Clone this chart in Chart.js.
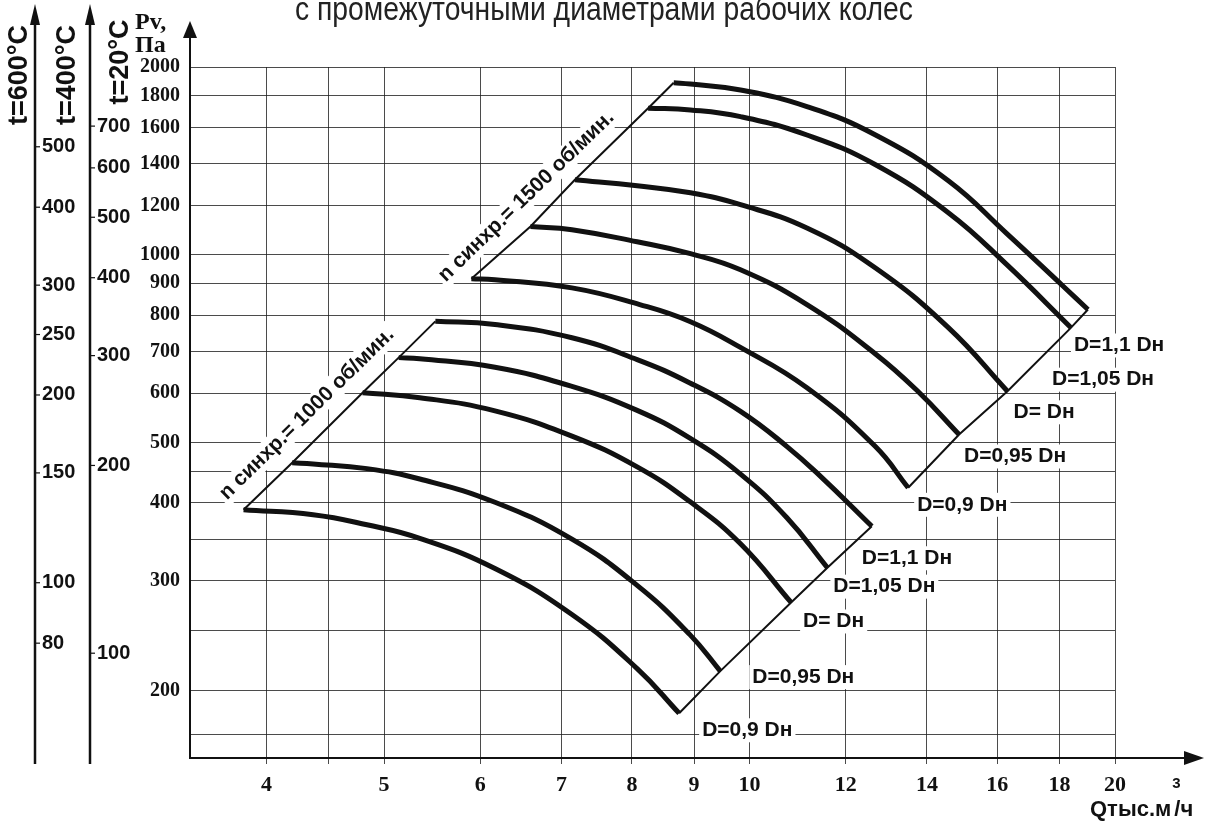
<!DOCTYPE html>
<html lang="ru">
<head>
<meta charset="utf-8">
<title>Аэродинамические характеристики</title>
<script src="https://cdn.jsdelivr.net/npm/chart.js@4.4.1/dist/chart.umd.min.js"></script>
<style>
  html, body { margin: 0; padding: 0; background: #fff; }
  canvas { display: block; }
</style>
</head>
<body>
<canvas id="chart" width="1210" height="826"></canvas>
<script>
// Q, тыс. м3/ч  and  Pv, Па, n = 1000 об/мин
const q1000d090 = [3.83, 4.37, 4.84, 5.35, 6.17, 7.14, 8.08, 8.75];
const p1000d090 = [390, 383, 369, 351, 314, 265, 217, 184];
const q1000d095 = [4.20, 4.37, 4.84, 5.35, 6.17, 7.14, 8.08, 8.93, 9.46];
const p1000d095 = [464, 462, 454, 437, 401, 350, 295, 246, 215];
const q1000d100 = [4.80, 5.35, 6.17, 7.14, 8.08, 8.93, 9.83, 10.82];
const p1000d100 = [601, 590, 562, 512, 457, 402, 344, 277];
const q1000d105 = [5.14, 5.35, 6.17, 7.14, 8.08, 8.93, 9.83, 10.73, 11.59];
const p1000d105 = [684, 681, 660, 615, 563, 508, 445, 379, 315];
const q1000d110 = [5.51, 6.17, 7.14, 8.08, 8.93, 9.83, 10.73, 11.43, 12.61];
const p1000d110 = [782, 773, 736, 679, 623, 561, 493, 442, 367];

// n = 1500 об/мин
const q1500d090 = [5.90, 6.17, 7.14, 8.12, 8.94, 9.82, 11.15, 12.69, 13.51];
const p1500d090 = [915, 912, 885, 832, 781, 711, 612, 493, 423];
const q1500d095 = [6.60, 7.14, 8.08, 8.94, 9.83, 11.15, 12.69, 13.76, 14.88];
const p1500d095 = [1110, 1097, 1049, 1004, 946, 832, 694, 604, 515];
const q1500d100 = [7.18, 8.08, 8.94, 9.83, 11.15, 12.69, 14.58, 16.31];
const p1500d100 = [1319, 1290, 1257, 1203, 1104, 953, 764, 604];
const q1500d105 = [8.25, 8.94, 9.83, 11.15, 12.70, 14.58, 16.29, 18.40];
const p1500d105 = [1718, 1707, 1665, 1556, 1394, 1168, 964, 764];
const q1500d110 = [8.66, 8.94, 9.83, 11.15, 12.70, 14.58, 16.29, 18.11, 19.00];
const p1500d110 = [1887, 1878, 1837, 1728, 1556, 1314, 1081, 892, 817];

// axes
const qMin = 3.46, qMax = 20;
const qTicks = [4, 4.5, 5, 6, 7, 8, 9, 10, 12, 14, 16, 18, 20];
const qBlank = [4.5];
const pMin = 156, pMax = 2000;
const pTicks = [170, 200, 250, 300, 350, 400, 450, 500, 600, 700, 800, 900, 1000, 1200, 1400, 1600, 1800, 2000];
const pBlank = [170, 250, 350, 450];
// same pressure at 400 °C and 600 °C (density ratio to 20 °C)
const t400Factor = 293 / 673;
const t600Factor = 293 / 873;
const t400Ticks = [100, 200, 300, 400, 500, 600, 700];
const t600Ticks = [80, 100, 150, 200, 250, 300, 400, 500];

const curves = [
  { rpm: 1000, q: q1000d090, p: p1000d090, label: 'D=0,9 Dн' },
  { rpm: 1000, q: q1000d095, p: p1000d095, label: 'D=0,95 Dн' },
  { rpm: 1000, q: q1000d100, p: p1000d100, label: 'D= Dн' },
  { rpm: 1000, q: q1000d105, p: p1000d105, label: 'D=1,05 Dн' },
  { rpm: 1000, q: q1000d110, p: p1000d110, label: 'D=1,1 Dн' },
  { rpm: 1500, q: q1500d090, p: p1500d090, label: 'D=0,9 Dн' },
  { rpm: 1500, q: q1500d095, p: p1500d095, label: 'D=0,95 Dн' },
  { rpm: 1500, q: q1500d100, p: p1500d100, label: 'D= Dн' },
  { rpm: 1500, q: q1500d105, p: p1500d105, label: 'D=1,05 Dн' },
  { rpm: 1500, q: q1500d110, p: p1500d110, label: 'D=1,1 Dн' }
];
// where each D label sits relative to the end of its curve (px)
const labelOffsets = [[23, 17], [32, 6], [12, 19], [6, 19], [-10, 32],
                      [9, 17], [5, 22], [6, 21], [-19, 52], [-14, 36]];
// rpm labels along the start lines: [offset from line, shift along line]
const rpmLabels = [
  { rpm: 1000, text: 'n синхр.= 1000 об/мин.', off: 24, along: -22 },
  { rpm: 1500, text: 'n синхр.= 1500 об/мин.', off: 21, along: -44 }
];

const SERIF = '"Liberation Serif", "Times New Roman", serif';
const SANS = '"Liberation Sans", Arial, sans-serif';
const NARROW = '"Liberation Sans Narrow", "Arial Narrow", "Liberation Sans", sans-serif';
const INK = '#111';
const GRID = 'rgba(30,30,30,0.8)';

const toPts = (q, p) => q.map((v, i) => ({ x: v, y: p[i] }));
const datasets = curves.map(c => ({
  label: c.label + ' ' + c.rpm,
  data: toPts(c.q, c.p),
  showLine: true,
  borderColor: INK,
  borderWidth: 5,
  borderCapStyle: 'butt',
  borderJoinStyle: 'round',
  pointRadius: 0,
  tension: 0.45
}));
[1000, 1500].forEach(n => {
  const g = curves.filter(c => c.rpm === n);
  [g.map(c => ({ x: c.q[0], y: c.p[0] })),
   g.map(c => ({ x: c.q[c.q.length - 1], y: c.p[c.p.length - 1] }))].forEach(pts => {
    datasets.push({ label: 'n' + n, data: pts, showLine: true, borderColor: INK,
      borderWidth: 2, pointRadius: 0, tension: 0 });
  });
});

function arrowUp(ctx, x, tip, half, len) {
  ctx.beginPath();
  ctx.moveTo(x, tip);
  ctx.lineTo(x - half, tip + len);
  ctx.lineTo(x + half, tip + len);
  ctx.closePath();
  ctx.fill();
}

function boxedText(ctx, text, x, y, align) {
  const w = ctx.measureText(text).width;
  const left = align === 'center' ? x - w / 2 : x;
  ctx.fillStyle = '#fff';
  ctx.fillRect(left - 3, y - 12, w + 6, 24);
  ctx.fillStyle = INK;
  ctx.fillText(text, x, y);
}

const decor = {
  id: 'decor',
  beforeDraw(chart) {
    const { ctx, width, height } = chart;
    ctx.save();
    ctx.fillStyle = '#fff';
    ctx.fillRect(0, 0, width, height);
    ctx.restore();
  },
  beforeDatasetsDraw(chart) {
    const { ctx, scales: { x, y } } = chart;
    ctx.save();
    ctx.font = 'bold 21px ' + SANS;
    ctx.textBaseline = 'middle';
    ctx.textAlign = 'left';
    curves.forEach((c, i) => {
      const px = x.getPixelForValue(c.q[c.q.length - 1]);
      const py = y.getPixelForValue(c.p[c.p.length - 1]);
      boxedText(ctx, c.label, px + labelOffsets[i][0], py + labelOffsets[i][1], 'left');
    });
    rpmLabels.forEach(r => {
      const g = curves.filter(c => c.rpm === r.rpm);
      const a = g[0], b = g[g.length - 1];
      const x1 = x.getPixelForValue(a.q[0]), y1 = y.getPixelForValue(a.p[0]);
      const x2 = x.getPixelForValue(b.q[0]), y2 = y.getPixelForValue(b.p[0]);
      const len = Math.hypot(x2 - x1, y2 - y1);
      const ux = (x2 - x1) / len, uy = (y2 - y1) / len;
      const cx = (x1 + x2) / 2 + uy * r.off + ux * r.along;
      const cy = (y1 + y2) / 2 - ux * r.off + uy * r.along;
      ctx.save();
      ctx.translate(cx, cy);
      ctx.rotate(Math.atan2(uy, ux));
      ctx.textAlign = 'center';
      boxedText(ctx, r.text, 0, 0, 'center');
      ctx.restore();
    });
    ctx.restore();
  },
  afterDraw(chart) {
    const { ctx, chartArea, scales } = chart;
    const { y, x } = scales;
    ctx.save();
    ctx.fillStyle = INK;
    ctx.strokeStyle = INK;

    // main axes extended with arrows
    ctx.lineWidth = 2;
    ctx.beginPath();
    ctx.moveTo(y.right, chartArea.top);
    ctx.lineTo(y.right, 36);
    ctx.moveTo(chartArea.right, x.top);
    ctx.lineTo(1186, x.top);
    ctx.stroke();
    arrowUp(ctx, y.right, 21, 7, 17);
    ctx.beginPath();
    ctx.moveTo(1204, x.top);
    ctx.lineTo(1184, x.top - 7);
    ctx.lineTo(1184, x.top + 7);
    ctx.closePath();
    ctx.fill();

    // temperature axes
    [scales.t600, scales.t400].forEach(s => {
      const ax = s.right;
      ctx.lineWidth = 2.5;
      ctx.beginPath();
      ctx.moveTo(ax, 22);
      ctx.lineTo(ax, 764);
      ctx.stroke();
      arrowUp(ctx, ax, 4, 5, 21);
      ctx.lineWidth = 1.2;
      s.ticks.forEach(t => {
        const ty = s.getPixelForValue(t.value);
        ctx.beginPath();
        ctx.moveTo(ax, ty);
        ctx.lineTo(ax + 5, ty);
        ctx.stroke();
      });
    });

    // axis titles
    ctx.textBaseline = 'middle';
    ctx.textAlign = 'center';
    ctx.font = 'bold 27px ' + SANS;
    [[scales.t600.right - 15, 75, 't=600°C'],
     [scales.t400.right - 22, 75, 't=400°C'],
     [scales.y.left + 31, 62, 't=20°C']].forEach(([tx, ty, txt]) => {
      ctx.save();
      ctx.translate(tx, ty);
      ctx.rotate(-Math.PI / 2);
      ctx.fillText(txt, 0, 0);
      ctx.restore();
    });

    ctx.textAlign = 'left';
    ctx.textBaseline = 'alphabetic';
    ctx.font = 'bold 24px ' + SERIF;
    ctx.fillText('Pv,', y.left + 45, 29);
    ctx.fillText('Па', y.left + 45, 52);

    ctx.font = 'bold 22px ' + SANS;
    const qx = 1090;
    ctx.fillText('Qтыс.м', qx, 816);
    const w1 = ctx.measureText('Qтыс.м').width;
    ctx.font = 'bold 15px ' + SANS;
    ctx.fillText('3', qx + w1 + 1, 788);
    ctx.font = 'bold 22px ' + SANS;
    ctx.fillText('/ч', qx + w1 + 3, 816);

    // cut-off caption at the top
    const cap = 'с промежуточными диаметрами рабочих колес';
    ctx.font = '34px ' + NARROW;
    ctx.fillStyle = '#222';
    const cw = ctx.measureText(cap).width;
    const sx = Math.min(1, 618 / cw);
    ctx.save();
    ctx.translate(604, 20);
    ctx.scale(sx, 1);
    ctx.textAlign = 'center';
    ctx.fillText(cap, 0, 0);
    ctx.restore();
    ctx.restore();
  }
};

new Chart(document.getElementById('chart'), {
  type: 'scatter',
  data: { datasets },
  plugins: [decor],
  options: {
    responsive: false,
    animation: false,
    layout: { padding: { left: 5, right: 95, top: 67, bottom: 18 } },
    plugins: { legend: { display: false }, tooltip: { enabled: false } },
    scales: {
      x: {
        type: 'logarithmic', position: 'bottom', min: qMin, max: qMax,
        afterBuildTicks: s => { s.ticks = qTicks.map(v => ({ value: v })); },
        afterFit: s => { s.height = 50; },
        grid: { color: GRID, lineWidth: 1, tickLength: 6 },
        border: { color: INK, width: 2 },
        ticks: {
          autoSkip: false, maxRotation: 0, padding: 8, color: INK,
          font: { family: SERIF, size: 22, weight: 'bold' },
          callback: v => qBlank.includes(v) ? '' : String(v)
        }
      },
      y: {
        type: 'logarithmic', position: 'left', weight: 0, min: pMin, max: pMax,
        afterBuildTicks: s => { s.ticks = pTicks.map(v => ({ value: v })); },
        afterFit: s => { s.width = 100; },
        grid: { color: GRID, lineWidth: 1, drawTicks: false },
        border: { color: INK, width: 2 },
        ticks: {
          autoSkip: false, padding: 10, color: INK,
          font: { family: SERIF, size: 20, weight: 'bold' },
          callback: v => pBlank.includes(v) ? '' : String(v)
        }
      },
      t400: {
        type: 'logarithmic', position: 'left', weight: 1,
        min: pMin * t400Factor, max: pMax * t400Factor,
        afterBuildTicks: s => { s.ticks = t400Ticks.map(v => ({ value: v })); },
        afterFit: s => { s.width = 55; },
        grid: { display: false, drawOnChartArea: false },
        border: { display: false },
        ticks: {
          mirror: true, autoSkip: false, padding: 7, color: INK,
          font: { family: NARROW, size: 20, weight: 'bold' },
          callback: v => String(v)
        }
      },
      t600: {
        type: 'logarithmic', position: 'left', weight: 2,
        min: pMin * t600Factor, max: pMax * t600Factor,
        afterBuildTicks: s => { s.ticks = t600Ticks.map(v => ({ value: v })); },
        afterFit: s => { s.width = 30; },
        grid: { display: false, drawOnChartArea: false },
        border: { display: false },
        ticks: {
          mirror: true, autoSkip: false, padding: 7, color: INK,
          font: { family: NARROW, size: 20, weight: 'bold' },
          callback: v => String(v)
        }
      }
    }
  }
});
</script>
</body>
</html>
